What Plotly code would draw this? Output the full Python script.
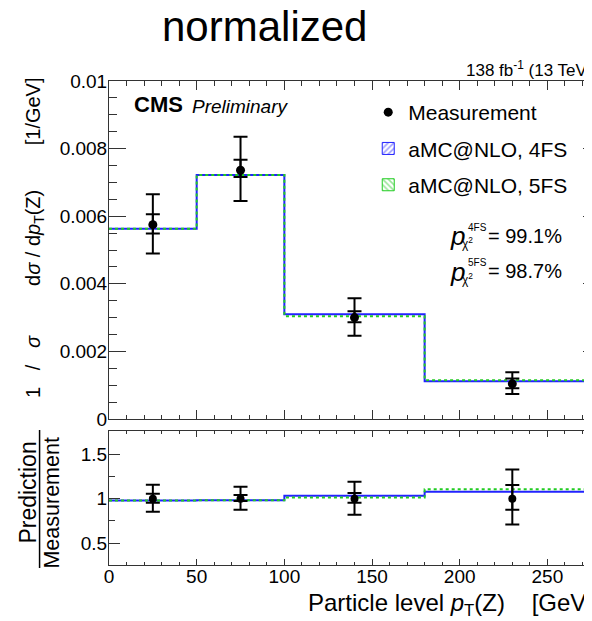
import plotly.graph_objects as go

# ---------------- data ----------------
bin_edges = [0, 50, 100, 180, 280]
bin_centers = [25, 75, 140, 230]
meas = [0.00575, 0.00736, 0.00300, 0.00104]
meas_stat_hi = [0.00606, 0.00767, 0.00319, 0.00120]
meas_stat_lo = [0.00549, 0.00716, 0.00286, 0.00091]
meas_tot_hi = [0.00665, 0.00835, 0.00357, 0.00138]
meas_tot_lo = [0.00490, 0.00645, 0.00246, 0.00074]
pred_4fs = [0.00563, 0.00722, 0.00310, 0.00112]
pred_5fs = [0.00563, 0.00722, 0.00304, 0.00115]
y_ticks_top = [0, 0.002, 0.004, 0.006, 0.008, 0.01]
y_ticklabels_top = ["0", "0.002", "0.004", "0.006", "0.008", "0.01"]
x_ticks = [0, 50, 100, 150, 200, 250]
ratio_ticks = [0.5, 1, 1.5]
ratio_ticklabels = ["0.5", "1", "1.5"]

# ---------------- styling ----------------
FONT = "Liberation Sans, Arial, Helvetica, sans-serif"
AX = "#333333"
BLUE = "#2222ff"
GREEN = "#22cc22"
OFF = 8  # page body margin offset
W, H = 592, 621
ML, MR, MT, MB = 100.5, 0, 73, 64
PW, PH = W - ML - MR, H - MT - MB
TOP_BOTTOM_PG, RATIO_TOP_PG = 419, 430.7   # page pixels
D1 = (H - MB - (TOP_BOTTOM_PG - OFF)) / PH
D2 = (H - MB - (RATIO_TOP_PG - OFF)) / PH


def px2x(pg):
    return (pg - OFF - ML) / PW


def px2y(pg):
    return (H - MB - (pg - OFF)) / PH


def step(vals):
    return list(vals) + [vals[-1]]


ratio_4fs = [p / m for p, m in zip(pred_4fs, meas)]
ratio_5fs = [p / m for p, m in zip(pred_5fs, meas)]
ones = [1.0 for _ in meas]

fig = go.Figure()

# ---- top panel ----
fig.add_trace(go.Scatter(x=bin_edges, y=step(pred_4fs), mode="lines",
                         line=dict(color=BLUE, width=2, shape="hv"),
                         showlegend=False, xaxis="x", yaxis="y", hoverinfo="skip"))
fig.add_trace(go.Scatter(x=bin_edges, y=step(pred_5fs), mode="lines",
                         line=dict(color=GREEN, width=2, shape="hv", dash="3px,3px"),
                         showlegend=False, xaxis="x", yaxis="y", hoverinfo="skip"))
fig.add_trace(go.Scatter(
    x=bin_centers, y=meas, mode="markers", marker=dict(size=1, color="black"),
    error_y=dict(type="data", symmetric=False,
                 array=[h - m for h, m in zip(meas_stat_hi, meas)],
                 arrayminus=[m - l for l, m in zip(meas_stat_lo, meas)],
                 color="black", thickness=2, width=7),
    showlegend=False, xaxis="x", yaxis="y"))
fig.add_trace(go.Scatter(
    x=bin_centers, y=meas, mode="markers", name="Measurement",
    marker=dict(size=9, color="black"),
    error_y=dict(type="data", symmetric=False,
                 array=[h - m for h, m in zip(meas_tot_hi, meas)],
                 arrayminus=[m - l for l, m in zip(meas_tot_lo, meas)],
                 color="black", thickness=2, width=7),
    legendgroup="a", xaxis="x", yaxis="y"))
fig.add_trace(go.Bar(x=[None], y=[None], name="aMC@NLO, 4FS", legendgroup="b",
                     marker=dict(color="white", line=dict(width=1, color=BLUE),
                                 pattern=dict(shape="/", fgcolor="#3b3bff", bgcolor="white",
                                              size=5, solidity=0.4)),
                     xaxis="x", yaxis="y"))
fig.add_trace(go.Bar(x=[None], y=[None], name="aMC@NLO, 5FS", legendgroup="c",
                     marker=dict(color="white", line=dict(width=1, color=GREEN),
                                 pattern=dict(shape="\\", fgcolor="#33cc33", bgcolor="white",
                                              size=5, solidity=0.4)),
                     xaxis="x", yaxis="y"))

# ---- ratio panel ----
fig.add_trace(go.Scatter(x=bin_edges, y=step(ratio_4fs), mode="lines",
                         line=dict(color=BLUE, width=2, shape="hv"),
                         showlegend=False, xaxis="x2", yaxis="y2", hoverinfo="skip"))
fig.add_trace(go.Scatter(x=bin_edges, y=step(ratio_5fs), mode="lines",
                         line=dict(color=GREEN, width=2, shape="hv", dash="3px,3px"),
                         showlegend=False, xaxis="x2", yaxis="y2", hoverinfo="skip"))
fig.add_trace(go.Scatter(
    x=bin_centers, y=ones, mode="markers", marker=dict(size=1, color="black"),
    error_y=dict(type="data", symmetric=False,
                 array=[h / m - 1 for h, m in zip(meas_stat_hi, meas)],
                 arrayminus=[1 - l / m for l, m in zip(meas_stat_lo, meas)],
                 color="black", thickness=2, width=7),
    showlegend=False, xaxis="x2", yaxis="y2"))
fig.add_trace(go.Scatter(
    x=bin_centers, y=ones, mode="markers", marker=dict(size=8, color="black"),
    error_y=dict(type="data", symmetric=False,
                 array=[h / m - 1 for h, m in zip(meas_tot_hi, meas)],
                 arrayminus=[1 - l / m for l, m in zip(meas_tot_lo, meas)],
                 color="black", thickness=2, width=7),
    showlegend=False, xaxis="x2", yaxis="y2"))

common = dict(showgrid=False, zeroline=False, linecolor=AX, linewidth=1,
              tickcolor=AX, tickfont=dict(size=19, color="black", family=FONT))

fig.update_layout(
    width=W, height=H, margin=dict(l=ML, r=MR, t=MT, b=MB, pad=0),
    plot_bgcolor="white", paper_bgcolor="white",
    font=dict(family=FONT, color="black"),
    barmode="overlay",
    xaxis=dict(domain=[0, 1], anchor="y", range=[0, 280], showline=True, mirror="ticks",
               ticks="inside", ticklen=9, tickvals=x_ticks, showticklabels=False,
               minor=dict(dtick=10, tick0=0, ticks="inside", ticklen=4.5, tickcolor=AX, showgrid=False),
               **common),
    yaxis=dict(domain=[D1, 1], anchor="x", range=[0, 0.01], showline=True, mirror="ticks",
               ticks="inside", ticklen=17, tickvals=y_ticks_top, ticktext=y_ticklabels_top,
               ticklabelstandoff=-3,
               minor=dict(dtick=0.0005, tick0=0, ticks="inside", ticklen=8, tickcolor=AX, showgrid=False),
               **common),
    xaxis2=dict(domain=[0, 1], anchor="y2", range=[0, 280], showline=True, mirror="ticks",
                ticks="inside", ticklen=6, tickvals=x_ticks, ticklabelstandoff=-6,
                minor=dict(dtick=10, tick0=0, ticks="inside", ticklen=3, tickcolor=AX, showgrid=False),
                **common),
    yaxis2=dict(domain=[0, D2], anchor="x2", range=[0.257, 1.761], showline=True, mirror="ticks",
                ticks="inside", ticklen=11, tickvals=ratio_ticks, ticktext=ratio_ticklabels,
                ticklabelstandoff=-3,
                minor=dict(dtick=0.25, tick0=0, ticks="inside", ticklen=6, tickcolor=AX, showgrid=False),
                **common),
    legend=dict(x=px2x(368), y=px2y(92), xanchor="left", yanchor="top",
                bgcolor="rgba(0,0,0,0)", font=dict(size=21, family=FONT, color="black"),
                traceorder="grouped", tracegroupgap=6, itemwidth=30),
    showlegend=True,
)

ann = []


def add_text(text, px, py, size, xanchor="left", yanchor="middle", angle=0):
    ann.append(dict(text=text, x=px2x(px), y=px2y(py), xref="paper", yref="paper",
                    xanchor=xanchor, yanchor=yanchor, showarrow=False, textangle=angle,
                    font=dict(size=size, family=FONT, color="black")))


NB = "&nbsp;"
add_text("normalized", 264, 26, 42, xanchor="center")
add_text("138 fb<sup>-1</sup> (13 TeV)", 595, 69, 17, xanchor="right")
add_text("<b>CMS</b>", 132, 105, 22)
add_text("<i>Preliminary</i>", 190, 106, 19)
for i, (lab, val) in enumerate([("4FS", "99.1%"), ("5FS", "98.7%")]):
    dy = 35.5 * i
    add_text("<i>p</i>", 448, 236 + dy, 26)
    add_text(lab, 466, 227 + dy, 10)
    add_text("χ<sup>2</sup>", 460, 243 + dy, 12)
    add_text("= " + val, 486, 235.5 + dy, 20)
add_text("1" + NB * 3 + "/" + NB * 3 + "<i>σ</i>" + NB * 9 + "d<i>σ</i>" + NB + "/" + NB
         + "d<i>p</i><sub>T</sub>(Z)" + NB * 8 + "[1/GeV]",
         34, 237.5, 20, xanchor="center", angle=-90)
add_text("Prediction", 27, 493, 23, xanchor="center", angle=-90)
add_text("Measurement", 51, 503, 21.5, xanchor="center", angle=-90)
add_text("Particle level <i>p</i><sub>T</sub>(Z)" + NB * 4 + "[GeV]", 595, 604, 24, xanchor="right")

fig.update_layout(annotations=ann,
                  shapes=[dict(type="line", xref="paper", yref="paper",
                               x0=px2x(39), x1=px2x(39), y0=px2y(430), y1=px2y(568),
                               line=dict(color="black", width=1.5))])

fig.write_html("out.html")
